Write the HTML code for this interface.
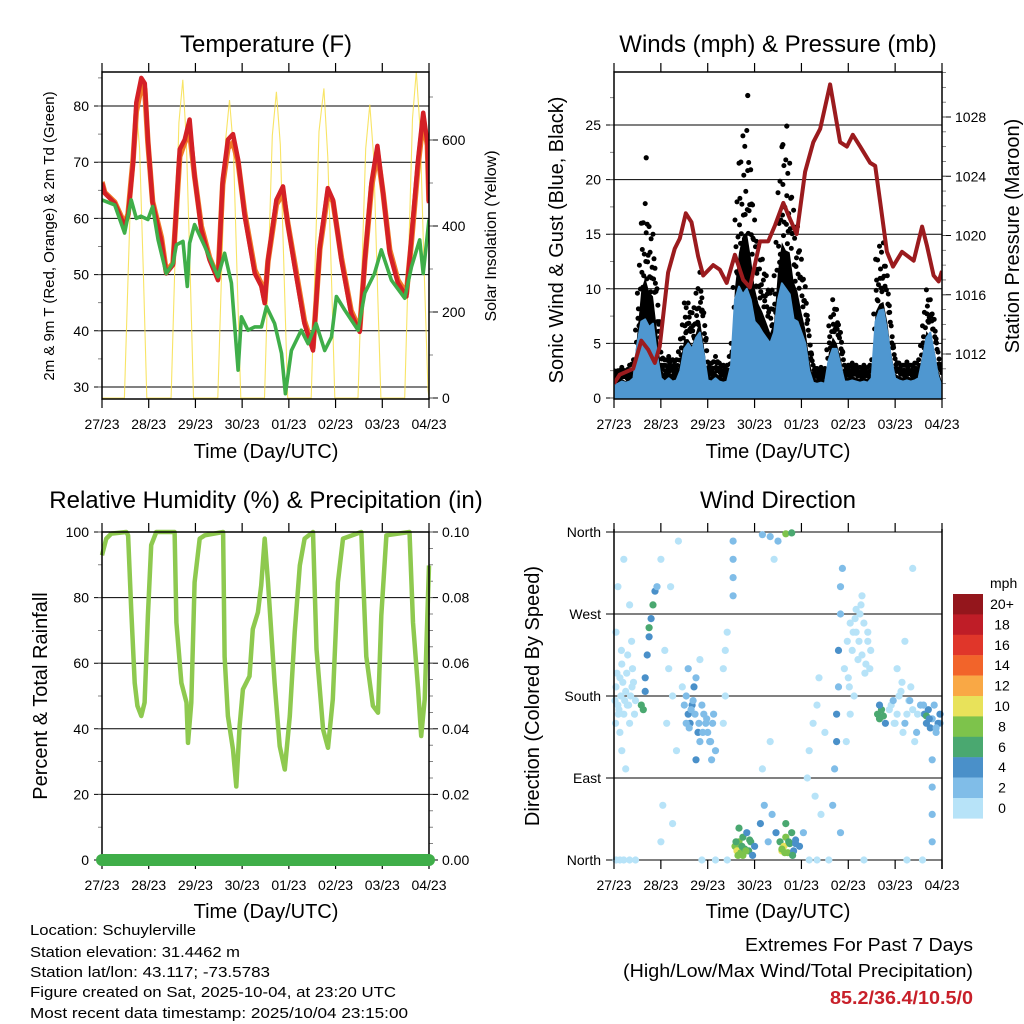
<!DOCTYPE html>
<html><head><meta charset="utf-8"><style>
html,body{margin:0;padding:0;background:#fff;}
svg{display:block;font-family:"Liberation Sans",Arial,sans-serif;}
</style></head><body>
<svg id="chart" width="1024" height="1024" viewBox="0 0 1024 1024">
<rect width="1024" height="1024" fill="#fff"/>
<g id="p1"></g>
<g id="p2"></g>
<g id="p3"></g>
<g id="p4"></g>
<g id="legend"></g>

<text x="266" y="52" font-size="24" text-anchor="middle">Temperature (F)</text>
<text x="778" y="52" font-size="24" text-anchor="middle">Winds (mph) &amp; Pressure (mb)</text>
<text x="266" y="508" font-size="24" text-anchor="middle">Relative Humidity (%) &amp; Precipitation (in)</text>
<text x="778" y="508" font-size="24" text-anchor="middle">Wind Direction</text>

<text x="266" y="458" font-size="20" text-anchor="middle">Time (Day/UTC)</text>
<text x="778" y="458" font-size="20" text-anchor="middle">Time (Day/UTC)</text>
<text x="266" y="918" font-size="20" text-anchor="middle">Time (Day/UTC)</text>
<text x="778" y="918" font-size="20" text-anchor="middle">Time (Day/UTC)</text>

<text transform="translate(54,236) rotate(-90)" font-size="15" text-anchor="middle">2m &amp; 9m T (Red, Orange) &amp; 2m Td (Green)</text>
<text transform="translate(496,236) rotate(-90)" font-size="16" text-anchor="middle">Solar Insolation (Yellow)</text>
<text transform="translate(563,240) rotate(-90)" font-size="20" text-anchor="middle">Sonic Wind &amp; Gust (Blue, Black)</text>
<text transform="translate(1019,236) rotate(-90)" font-size="20" text-anchor="middle">Station Pressure (Maroon)</text>
<text transform="translate(47,696) rotate(-90)" font-size="20" text-anchor="middle">Percent &amp; Total Rainfall</text>
<text transform="translate(539,696) rotate(-90)" font-size="20" text-anchor="middle">Direction (Colored By Speed)</text>

<g font-size="15">
<text x="30" y="935" textLength="166" lengthAdjust="spacingAndGlyphs">Location: Schuylerville</text>
<text x="30" y="957" textLength="210" lengthAdjust="spacingAndGlyphs">Station elevation: 31.4462 m</text>
<text x="30" y="977" textLength="240" lengthAdjust="spacingAndGlyphs">Station lat/lon: 43.117; -73.5783</text>
<text x="30" y="997" textLength="366" lengthAdjust="spacingAndGlyphs">Figure created on Sat, 2025-10-04, at 23:20 UTC</text>
<text x="30" y="1018" textLength="378" lengthAdjust="spacingAndGlyphs">Most recent data timestamp: 2025/10/04 23:15:00</text>
</g>
<text x="973" y="951" font-size="18" text-anchor="end" textLength="228" lengthAdjust="spacingAndGlyphs">Extremes For Past 7 Days</text>
<text x="973" y="977" font-size="18" text-anchor="end" textLength="350" lengthAdjust="spacingAndGlyphs">(High/Low/Max Wind/Total Precipitation)</text>
<text x="973" y="1004" font-size="18" font-weight="bold" fill="#c8202a" text-anchor="end" textLength="143" lengthAdjust="spacingAndGlyphs">85.2/36.4/10.5/0</text>
</svg>
<script>
// ---------- data ----------
const dayLabels = ["27/23","28/23","29/23","30/23","01/23","02/23","03/23","04/23"];
const tempTicks = [30,40,50,60,70,80];
const solarTicks = [0,200,400,600];
const windTicks = [0,5,10,15,20,25];
const presTicks = [1012,1016,1020,1024,1028];
const rhTicks = [0,20,40,60,80,100];
const rainTicks = ["0.00","0.02","0.04","0.06","0.08","0.10"];
const dirTickLabels = ["North","East","South","West","North"];

const tempT = [0,1.4,6.5,11.6,13.4,16,17.6,20.2,22,23.6,26,30.5,33,36.5,39.9,42.5,45,47.6,51,55.3,59.6,62,64.7,67.3,69.9,73.3,78.5,81.9,83.6,85.3,89.6,93,95.6,99,104,108.4,111.9,116,118.7,123,128,132.4,135,138.4,141.5,144.4,147.8,152,156.4,159,162.4,165,167.2,168];
const tempRed = [66.3,64.5,62.7,58.6,60.5,69.9,80.6,85,84,74,62.7,56,50.2,51.7,72.3,74,77.6,67.5,58,52.6,49,66.9,74,75,70.5,60.4,50.2,47.9,44.9,52.6,63.3,65.7,58.6,51.4,41.3,36.5,55,65.4,63.3,52.6,43.1,39.8,52.6,66.3,72.9,64.5,53.8,48.5,46.1,56.8,70.5,78.8,73.5,62.7];
const tempOrange = [66.5,64.6,62.9,59,60.8,70.5,79,83.5,83,73.5,63,56.6,50.6,52,71,73.5,75.5,67.5,58.6,53,49.4,66,72.5,73.5,70,61,50.8,48.3,45.4,52.4,62.5,64.5,58.8,52,41.8,37,54.5,64.5,63,53,43.6,40.2,52.4,65.5,71.8,64.5,54.4,49,46.6,56,69.5,77.5,73,63];
const dewT = [0,6.5,11.6,15,17.6,20,23.6,26,28.8,33,36.5,38.2,41.6,43.8,45,47.6,52.8,59.6,63,66.5,69.9,71.6,75,78.5,81.9,84.5,88.7,92.2,94.2,97.3,102.4,105.9,110,114.4,117.9,120.4,124.7,131.6,135,140,143.5,148.7,155.5,159,163.2,165,168];
const dewVal = [63.3,62.4,57.4,63.3,60,60.4,59.8,62.1,56.2,50.2,52,55.3,55.9,47.9,55.6,58.9,55,49.6,53.8,48.5,33,42.5,40.1,40.7,40.7,44.3,41.3,36,28.8,36.5,40.1,37.7,41.3,36.5,38.9,46.1,43.7,40.1,46.7,50.2,54.4,49,45.8,51.4,56.2,50.2,59.8];
const solarT = [0,11.5,13.5,15.5,17.3,19.3,21.3,23,35.5,37.5,39.5,41.5,43.3,45.3,47,59.5,61.5,63.5,65.5,67.5,69.5,71.3,83.5,85.5,87.5,89.6,91.6,93.6,95.4,107.5,109.5,111.5,114,116,118,119.6,131.5,133.5,135.5,137.6,139.6,141.6,143.3,155.5,157.5,159.5,161.5,163.5,165.5,167.5,168];
const solarVal = [0,0,300,590,693,580,280,0,0,320,640,740,600,290,0,0,300,600,693,580,270,0,0,310,610,712,590,280,0,0,310,620,720,560,260,0,0,290,580,682,560,250,0,0,330,650,760,620,300,20,0];

const presT = [0,2.9,9.8,14,17.5,20.9,23.4,27.7,31.1,33.7,36.8,39.7,43.1,45.7,50.8,54.2,57.7,61.9,66.2,69.6,74.8,79,82.5,86.7,90.2,93.6,97.9,102.1,105.6,110.7,115.8,119.3,122.3,126.1,131.2,133.8,136.4,139.8,142.9,147.5,153.5,157.8,160.3,163.7,166.3,168];
const presVal = [1010,1010.6,1011,1012.9,1012.3,1011.4,1012.5,1017.5,1019.1,1019.8,1021.5,1020.9,1018.6,1017.3,1018,1017.7,1016.8,1018.7,1017,1016.5,1019.6,1019.6,1020.7,1022.2,1021.1,1020.1,1024.3,1026.3,1027.2,1030.2,1026.3,1026,1026.8,1026,1024.9,1024.7,1022.2,1018.9,1017.9,1018.9,1018.3,1020.6,1019.3,1017.3,1016.9,1017.6];
// 2-hourly, t = 0..168
const gustVal = [2.5,2.5,2.8,2.5,3,3.5,9.6,16,17.8,15.7,15,10,4.2,3.5,3.8,3.5,3.5,5.4,8.7,8.7,7.8,9.6,11.5,7.8,3.3,3.2,3.8,3.2,3,3,5,16.3,21.5,24,24.5,20.9,16.3,13.9,12.7,11.2,9.6,11.2,18.8,23,21.8,21.5,17.2,15.7,12.7,10.2,5.7,3,2.7,2.8,2.7,6.6,9,8.1,6,3,3,3.2,3,2.8,3,2.8,3.5,12.7,13.9,14.2,11.2,6.6,3.6,3.2,3,3.3,3,3.2,3.5,6.6,9.9,9,7.2,4.2,2.3];
const windVal = [1.2,1.3,1.5,1.4,1.5,1.8,5,7,7.2,6.5,6.8,4,1.8,1.5,1.8,1.5,1.6,2.5,4.5,5,4.5,5.5,6,4,1.6,1.5,1.8,1.5,1.4,1.5,3,9,10.2,9.5,10,9,7,6.6,6,5.5,5,6,9,10.5,10,9.5,7.2,7,6,5,2.5,1.4,1.3,1.4,1.3,3.5,4.5,4.5,3,1.5,1.5,1.6,1.5,1.4,1.5,1.4,1.8,7,8,8.1,6,3.5,1.8,1.6,1.5,1.6,1.5,1.6,1.8,3.5,5.5,6,4,2,1];
const gustOutT = [16.5,68.5,88.5,86.5];
const gustOutV = [22,27.7,24.9,23.2];

const rhT = [0,2.2,4.8,12.5,13.4,15,16.8,18.2,20.2,21.9,23.6,25.3,27.9,37.3,38.2,40.8,43.4,44.2,45.9,47.6,50.2,52.8,62.2,63,64.7,67.3,69,70.7,72.4,75.8,77.5,80.1,81.8,83.6,85.3,88.7,91.3,93.9,96.5,99,101.6,104.1,108.4,110.2,113.6,116.1,118.6,121.2,123.8,133.2,135.8,139.2,141.8,143.5,146.1,158,159.8,162.4,164,165.8,168];
const rhVal = [92.9,98,99.5,100,99,76.5,54,47,43.9,48,74.5,96,100,100,72.4,54,48,35.7,48,84.7,98,99,100,62,43.9,33.7,22.4,40.8,52,56,70.4,75.5,83.7,98,84.7,54,34.7,27.6,43.9,69.4,89.8,98,100,64.3,39.8,34.2,49,84.7,98,100,62,47,44.9,74.5,99,100,72.4,52,37.8,49,89.8];
const rainT = [0,168];
const rainVal = [0,0];

const dirT = [1,2,3,4,5,6,7,8,9,10,2,5,8,4,6,1,3, 14,15,16,17,18,19,20,21,22,16,18, 24,26,28,30,27,32,25,24,30,33,29,35, 37,38,39,40,41,42,43,44,45,46,47,48,49,50,51,42,38,44, 56,57,58,57,56, 61,61,61,61, 62,63,64,65,66,67,68,69,70,71,72,64,66, 75,77,79,81,83,76,80, 85,86,87,88,89,90,91,92,93,95,97,88, 76,80,84,88,91,82, 99,100,102,104,105,103,106,108, 113,114,114,115,115,116,116,117,112,116, 120,122,124,126,128,125,123,130,127,121,131,119, 135,136,137,138,139,136, 142,144,146,148,150,152,154,145,149,153, 159,160,161,162,163,164,165,167,160, 163,163,163,163, 1,3,5,8,11,45,52,58,100,104,110,128,150,158,
 0.5,1.5,2.5,3.5,4.5,5.5,6.5,7.5,8.5,9.5,10.5,11,0.8,2.2,3.8,6.8,9.2,
 36,37,38.5,39.5,40.5,41.5,43.5,45.5,47.5,49.5,50.5,52,
 118,119.5,121,122.5,124,125.5,127,128.5,130,131.5,120.5,123.5,126.5,129,
 141,143,145,147,149,151,153,155,157,143.5,147.5,151.5,155.5,
 62.5,63.5,65.5,67.5,69.5,86,87.5,89.5,91.5,93,
 166,167,165,158.5,161.5];
const dirDeg = [190,170,200,215,160,185,225,150,240,195,300,330,280,120,100,250,140, 170,165,200,225,245,265,280,295,300,185,255, 330,230,210,180,150,120,60,20,40,350,300,190, 180,160,150,170,190,200,140,130,170,160,150,140,130,110,160,110,210,220, 210,230,250,180,150, 350,330,310,290, 15,10,20,8,25,12,30,10,20,5,15,35,5, 40,60,20,50,30,100,130, 20,10,15,25,8,18,30,10,22,15,30,40, 357,355,350,358,359,330, 90,120,150,170,200,70,50,140, 100,130,160,190,230,270,300,320,60,30, 200,230,250,270,260,220,180,240,290,160,210,130, 160,155,165,158,150,170, 170,150,180,140,160,190,130,210,240,320, 160,150,165,145,155,170,140,150,158, 110,80,50,20, 0,0,0,0,0,0,0,0,0,0,0,0,0,0,
 175,205,165,180,195,175,205,170,180,210,160,175,150,160,230,170,190,
 170,150,145,165,175,160,150,140,155,130,150,120,
 210,240,260,250,275,240,225,205,250,230,190,265,280,215,
 165,175,160,185,150,175,165,140,170,150,195,175,160,
 20,5,15,10,22,12,8,20,5,18,
 150,160,145,170,155];
const dirSpd = [1,0.5,1,1,1,0.5,1,1,1,1,0.5,0.5,1,0.5,0.5,1,0.5, 6,6,4,4.5,4,5,6,4,3,5,6, 1,1,1,1,0.5,1,0.5,0.5,0.5,1,1,1, 3,4,4.5,5,4,3,4,3,2.5,2.5,3,2.5,3,2,2,4,3,1, 1,1,0.5,1,0.5, 2,3,2,3, 8,10,9,8,6,6,5,7,6,5,4,6,9, 4,3,3,2,4,1,1, 6,10,10,8,9,7,6,5,5,4,3,6, 3,2,2,8,7,1, 1,1,1,1,1,0.5,1,1, 3,4,4,3,4,3,3,2,2,3, 1,1,1,1,1,0.5,1,1,1,1,1,1, 6,6,7,6,5,4, 1,1,1,1.5,1,1,1,1,0.5,0.5, 4,4,4,4.5,3,2,3,2,6, 2,2,2,2, 0.5,0.5,0.5,1,0.5,1,1,1,0.5,1,1,0.5,1,1,
 1,1,0.5,1,1,0.5,1,1,1,0.5,1,1,0.5,1,1,0.5,1,
 3,2.5,3,2,3,2.5,2,3,2.5,2,3,2,
 1,1,0.5,1,1,1,0.5,1,1,1,0.5,1,1,1,
 1,2,1,1,2,1,1,2,3,1,1,2,1,
 7,8,6,9,6,8,9,7,6,5,
 4,4,3,2,4];

const legendLabels = ["20+","18","16","14","12","10","8","6","4","2","0"];
const legendColors = ["#94161c","#bf1d27","#e0362a","#f2642a","#f9a845","#e8e25a","#7dc34b","#4aa870","#4a90c9","#80bde8","#b7e3f8"];

// ---------- helpers ----------
const NS = "http://www.w3.org/2000/svg";
function mk(tag, parent, attrs){
  const e = document.createElementNS(NS, tag);
  for (const k in attrs) e.setAttribute(k, attrs[k]);
  parent.appendChild(e);
  return e;
}
function lin(d0,d1,r0,r1){ return v => r0 + (v-d0)/(d1-d0)*(r1-r0); }
function pathFrom(ts, vs, xs, ys){
  return ts.map((t,i)=>(i?"L":"M")+xs(t).toFixed(1)+","+ys(vs[i]).toFixed(1)).join("");
}
function speedColor(s){
  const idx = Math.min(10, Math.floor(s/2));
  return legendColors[10-idx];
}
const hrs2 = gustVal.map((v,i)=>i*2);

function frame(g, X0, X1, Y0, Y1, name){
  const xs = lin(0,168,X0,X1);
  const r = mk("rect", g, {x:X0,y:Y0,width:X1-X0,height:Y1-Y0,fill:"none",stroke:"#000","stroke-width":1.5});
  
  
  dayLabels.forEach((lab,i)=>{
    const x = xs(i*24);
    const tk = mk("path", g, {d:`M${x},${Y1}v9M${x},${Y0}v-9`, stroke:"#000","stroke-width":1.2});
    
    
    const tx = mk("text", g, {x:x, y:Y1+30, "font-size":14, "text-anchor":"middle"});
    tx.textContent = lab;
    
    
  });
  return xs;
}
function leftAxis(g, X0, X1, ys, ticks, labels, minorStep, dmin, dmax, grid, name){
  ticks.forEach((v,i)=>{
    const y = ys(v);
    const ln = mk("line", g, {x1:X0-8,x2:grid?X1:X0,y1:y,y2:y,stroke:"#000","stroke-width":1});
    
    
    const t = mk("text", g, {x:X0-13, y:y+5, "font-size":14, "text-anchor":"end"});
    t.textContent = labels ? labels[i] : v;
    
    
  });
  if (minorStep){
    for (let v=Math.ceil(dmin/minorStep)*minorStep; v<=dmax; v+=minorStep){
      const m = mk("line", g, {x1:X0-4,x2:X0,y1:ys(v),y2:ys(v),stroke:"#666","stroke-width":0.8});
      
      
    }
  }
}
function rightAxis(g, X1, ys, ticks, labels, minorStep, dmin, dmax, name){
  ticks.forEach((v,i)=>{
    const y = ys(v);
    const ln = mk("line", g, {x1:X1,x2:X1+9,y1:y,y2:y,stroke:"#000","stroke-width":1});
    
    
    const t = mk("text", g, {x:X1+13, y:y+5, "font-size":14});
    t.textContent = labels ? labels[i] : v;
    
    
  });
  if (minorStep){
    for (let v=Math.ceil(dmin/minorStep)*minorStep; v<=dmax+1e-9; v+=minorStep){
      const m = mk("line", g, {x1:X1,x2:X1+4,y1:ys(v),y2:ys(v),stroke:"#666","stroke-width":0.8});
      
      
    }
  }
}

// ---------- panel 1: temperature ----------
(function(){
  const g = document.getElementById("p1");
  const X0=102,X1=429,Y0=72,Y1=399;
  const ys = lin(30,80,387,106);
  const yr = lin(0,600,398,140);
  const xs = lin(0,168,X0,X1);
  leftAxis(g,X0,X1,ys,tempTicks,null,5,28.5,86,true,"temp");
  rightAxis(g,X1,yr,solarTicks,null,100,0,760,"solar");
  const clip = mk("clipPath", g, {id:"c1"});
  mk("rect", clip, {x:X0,y:Y0,width:X1-X0,height:Y1-Y0});
  const pg = mk("g", g, {"clip-path":"url(#c1)"});
  const s = mk("path", pg, {d:pathFrom(solarT,solarVal,xs,yr),fill:"none",stroke:"#f7df4a","stroke-width":1.1,opacity:0.85});
  
  
  const o = mk("path", pg, {d:pathFrom(tempT,tempOrange,xs,ys),fill:"none",stroke:"#f07a28","stroke-width":5.5,"stroke-linejoin":"round"});
  
  
  const r = mk("path", pg, {d:pathFrom(tempT,tempRed,xs,ys),fill:"none",stroke:"#d42026","stroke-width":4.5,"stroke-linejoin":"round"});
  
  
  const d = mk("path", pg, {d:pathFrom(dewT,dewVal,xs,ys),fill:"none",stroke:"#3fae49","stroke-width":3.6,"stroke-linejoin":"round"});
  
  
  frame(g,X0,X1,Y0,Y1,"temperature");
})();

// ---------- panel 2: winds & pressure ----------
(function(){
  const g = document.getElementById("p2");
  const X0=614,X1=942,Y0=72,Y1=399;
  const ys = lin(0,25,398,125);
  const yp = lin(1012,1028,354,117);
  const xs = lin(0,168,X0,X1);
  leftAxis(g,X0,X1,ys,windTicks,null,2.5,0,29.5,true,"wind");
  rightAxis(g,X1,yp,presTicks,null,1,1009,1031,"pressure");
  const clip = mk("clipPath", g, {id:"c2"});
  mk("rect", clip, {x:X0,y:Y0,width:X1-X0,height:Y1-Y0});
  const pg = mk("g", g, {"clip-path":"url(#c2)"});
  const gustArea = "M"+xs(0)+","+ys(0)+hrs2.map((t,i)=>"L"+xs(t).toFixed(1)+","+ys(gustVal[i]*0.62).toFixed(1)).join("")+"L"+xs(168)+","+ys(0)+"Z";
  const ga = mk("path", pg, {d:gustArea,fill:"#000"});
  
  
  hrs2.forEach((t,i)=>{
    const gv = gustVal[i];
    const nv = i<gustVal.length-1 ? gustVal[i+1] : gv;
    const wv = windVal[i];
    [[t,gv],[t+1,(gv+nv)/2*0.95],[t+0.5,gv*0.85],[t+1.5,(gv+nv)/2*0.78],[t+0.3,(gv+wv)/2],[t+1.2,gv*0.7],[t+0.8,wv+(gv-wv)*0.35]].forEach(p=>{
      if (p[0]>168) return;
      const c = mk("circle", pg, {cx:xs(p[0]).toFixed(1),cy:ys(p[1]).toFixed(1),r:2.5,fill:"#000"});
      
      
    });
  });
  gustOutT.forEach((t,i)=>{
    const c = mk("circle", pg, {cx:xs(t),cy:ys(gustOutV[i]),r:2.6,fill:"#000"});
    
    
  });
  const windArea = "M"+xs(0)+","+ys(0)+hrs2.map((t,i)=>"L"+xs(t).toFixed(1)+","+ys(windVal[i]).toFixed(1)).join("")+"L"+xs(168)+","+ys(0)+"Z";
  const wa = mk("path", pg, {d:windArea,fill:"#4f97d0",stroke:"#4f97d0","stroke-width":2,"stroke-linejoin":"round"});
  
  
  const p = mk("path", pg, {d:pathFrom(presT,presVal,xs,yp),fill:"none",stroke:"#9b1b1e","stroke-width":4,"stroke-linejoin":"round"});
  
  
  frame(g,X0,X1,Y0,Y1,"winds");
})();

// ---------- panel 3: humidity ----------
(function(){
  const g = document.getElementById("p3");
  const X0=102,X1=429,Y0=532,Y1=860;
  const ys = lin(0,100,860,532);
  const yr = lin(0,0.1,860,532);
  const xs = lin(0,168,X0,X1);
  leftAxis(g,X0,X1,ys,rhTicks,null,10,0,100,true,"rh");
  rightAxis(g,X1,yr,rainTicks.map(Number),rainTicks,0.005,0,0.1,"rain");
  const h = mk("path", g, {d:pathFrom(rhT,rhVal,xs,ys),fill:"none",stroke:"#8ec94f","stroke-width":4.5,"stroke-linejoin":"round"});
  
  
  frame(g,X0,X1,Y0,Y1,"humidity");
  const pr = mk("path", g, {d:pathFrom(rainT,rainVal,xs,yr),fill:"none",stroke:"#3fae49","stroke-width":12,"stroke-linecap":"round"});
  
  
})();

// ---------- panel 4: wind direction ----------
(function(){
  const g = document.getElementById("p4");
  const X0=614,X1=942,Y0=532,Y1=860;
  const ys = lin(0,360,860,532);
  const xs = lin(0,168,X0,X1);
  leftAxis(g,X0,X1,ys,[0,90,180,270,360],dirTickLabels,0,0,0,true,"direction");
  dirT.forEach((t,i)=>{
    const c = mk("circle", g, {cx:xs(t).toFixed(1),cy:ys(dirDeg[i]).toFixed(1),r:3.6,fill:speedColor(dirSpd[i])});
    
    
  });
  const ax = mk("path", g, {d:`M${X0},${Y0-3}V${Y1}`,stroke:"#000","stroke-width":1.5});
  
  
  dayLabels.forEach((lab,i)=>{
    const x = xs(i*24);
    const tk = mk("path", g, {d:`M${x},${Y1}v9M${x},${Y0}v-9`,stroke:"#000","stroke-width":1.2});
    
    
    const tx = mk("text", g, {x:x,y:Y1+30,"font-size":14,"text-anchor":"middle"});
    tx.textContent = lab;
    
    
  });
  const rx = mk("path", g, {d:`M${X1},${Y0-3}V${Y1+9}`,stroke:"#000","stroke-width":1.5});
  
  
})();

// ---------- legend ----------
(function(){
  const g = document.getElementById("legend");
  const t = mk("text", g, {x:990,y:588,"font-size":14});
  t.textContent = "mph";
  
  
  legendLabels.forEach((lab,i)=>{
    const y = 594 + i*20.4;
    const r = mk("rect", g, {x:953,y:y,width:30,height:20.6,fill:legendColors[i]});
    
    
    const tx = mk("text", g, {x:1002,y:y+15,"font-size":14,"text-anchor":"middle"});
    tx.textContent = lab;
    
    
  });
})();
</script>
</body></html>
